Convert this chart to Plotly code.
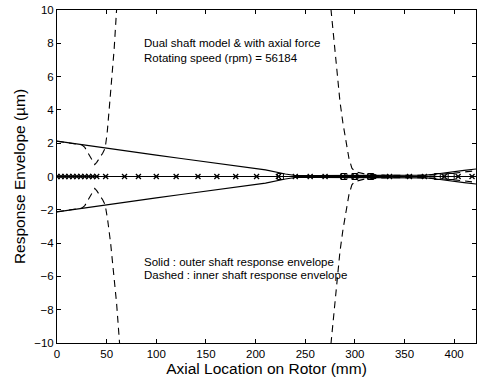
import plotly.graph_objects as go

# Outer shaft response envelope (solid), upper half; lower half is mirrored
outer_x = [0, 25, 50, 75, 100, 125, 150, 185, 210, 230, 240, 260, 300, 340, 372, 382, 395, 410, 422]
outer_y = [2.12, 1.9, 1.68, 1.48, 1.28, 1.08, 0.88, 0.64, 0.4, 0.15, 0.06, 0.05, 0.05, 0.05, 0.08, 0.15, 0.27, 0.37, 0.45]

# Inner shaft response envelope (dashed), upper and lower
inner_up_x = [0, 25, 28, 31, 34, 36, 38, 40, 43, 46, 48.5, 50.5, 52.5, 55, 57.5, 60, 62, 66, 80, 150, 250, 268, 272, 276, 279, 282, 285, 288, 291, 294, 297, 300, 310, 330, 360, 380, 400, 422]
inner_up_y = [2.12, 1.9, 1.75, 1.45, 1.1, 0.9, 0.72, 0.85, 1.1, 1.4, 1.7, 2.6, 4.0, 5.8, 7.6, 10, 12, 16, 30, 40, 30, 20, 14, 10, 8, 6, 4.5, 3.2, 2.0, 1.1, 0.5, 0.3, 0.15, 0.08, 0.06, 0.1, 0.2, 0.35]
inner_lo_x = [0, 25, 28, 31, 34, 36, 38, 40, 43, 46, 48.5, 51, 54, 57, 60, 63, 65, 68, 80, 150, 250, 268, 272, 276, 279, 282, 285, 288, 291, 294, 297, 300, 310, 330, 360, 380, 400, 422]
inner_lo_y = [-2.12, -1.9, -1.75, -1.45, -1.1, -0.9, -0.72, -0.85, -1.1, -1.4, -1.7, -2.6, -4.0, -5.8, -7.6, -10, -12, -16, -30, -40, -30, -20, -14, -10, -8, -6, -4.5, -3.2, -2.0, -1.1, -0.5, -0.3, -0.15, -0.08, -0.06, -0.1, -0.2, -0.35]

# Rotor node locations (centre line markers)
node_x = [0, 4, 8, 12, 16, 20, 24, 28, 32, 36, 40, 49, 68, 82, 100, 120, 142, 161, 180, 201, 223, 240, 255, 270, 288, 300, 315, 335, 355, 370, 390, 404, 418]
box_x = [225, 289, 300, 316, 383, 397]

x_ticks = [0, 50, 100, 150, 200, 250, 300, 350, 400]
y_ticks = [-10, -8, -6, -4, -2, 0, 2, 4, 6, 8, 10]

fig = go.Figure()
black = "black"
fig.add_trace(go.Scatter(x=inner_up_x, y=inner_up_y, mode="lines", line=dict(color=black, width=1.1, dash="7px,5px")))
fig.add_trace(go.Scatter(x=inner_lo_x, y=inner_lo_y, mode="lines", line=dict(color=black, width=1.1, dash="7px,5px")))
fig.add_trace(go.Scatter(x=outer_x, y=outer_y, mode="lines", line=dict(color=black, width=1.2)))
fig.add_trace(go.Scatter(x=outer_x, y=[-v for v in outer_y], mode="lines", line=dict(color=black, width=1.2)))
fig.add_trace(go.Scatter(x=node_x, y=[0] * len(node_x), mode="lines+markers",
                         line=dict(color=black, width=1),
                         marker=dict(symbol="x-thin-open", size=5, color=black, line=dict(width=1.3, color=black))))
fig.add_trace(go.Scatter(x=box_x, y=[0] * len(box_x), mode="markers",
                         marker=dict(symbol="square-open", size=6, color=black, line=dict(width=1, color=black))))

font_fam = "Liberation Sans, Arial, Helvetica, sans-serif"
ann_font = dict(family=font_fam, size=11.5, color=black)
texts = [
    ("Dual shaft model & with axial force", 43),
    ("Rotating speed (rpm) = 56184", 58),
    ("Solid : outer shaft response envelope", 262),
    ("Dashed : inner shaft response envelope", 275),
]
for t, ypx in texts:
    fig.add_annotation(text=t, xref="paper", yref="paper",
                       x=(142 - 57) / 419, y=(343 - ypx) / 333,
                       xanchor="left", yanchor="middle", showarrow=False, font=ann_font)

axis_common = dict(showline=True, linecolor=black, linewidth=1, mirror="ticks",
                   ticks="inside", ticklen=4, tickcolor=black, showgrid=False, zeroline=False,
                   tickfont=dict(family=font_fam, size=11.5, color=black))
fig.update_xaxes(range=[0, 422], tickvals=x_ticks, **axis_common,
                 title=dict(text="Axial Location on Rotor (mm)", font=dict(family=font_fam, size=15.5, color=black), standoff=2))
fig.update_yaxes(range=[-10, 10], tickvals=y_ticks, **axis_common,
                 title=dict(text="Response Envelope (µm)", font=dict(family=font_fam, size=15.5, color=black), standoff=4))

fig.update_layout(width=479, height=384, margin=dict(l=57, r=3, t=10, b=41),
                  paper_bgcolor="white", plot_bgcolor="white", showlegend=False)

fig.write_html("out.html")
